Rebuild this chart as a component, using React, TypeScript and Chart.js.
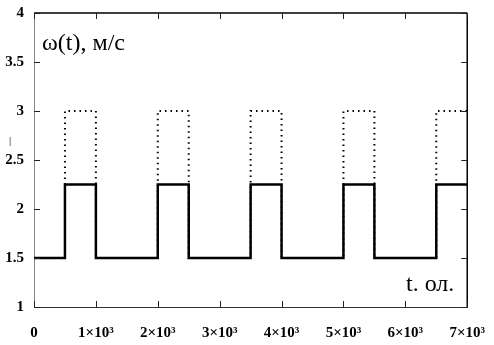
import React, { useEffect, useRef } from "react";
import { Chart, registerables } from "chart.js";

Chart.register(...registerables);

// Switching instants (t, ол.) and levels (м/с)
const times = [0, 500, 1000, 2000, 2500, 3500, 4000, 5000, 5500, 6500, 7000];
const omegaActual = [1.5, 2.25, 1.5, 2.25, 1.5, 2.25, 1.5, 2.25, 1.5, 2.25, 2.25];
const omegaTarget = [1.5, 3, 1.5, 3, 1.5, 3, 1.5, 3, 1.5, 3, 3];

const yTicks = [1, 1.5, 2, 2.5, 3, 3.5, 4];
const xTicks = [0, 1000, 2000, 3000, 4000, 5000, 6000, 7000];

const yTitle = "ω(t), м/с";
const xTitle = "t. ол.";

const FONT = "'Liberation Serif', 'Times New Roman', serif";

const framePlugin = {
  id: "frame",
  afterDraw(chart: any) {
    const { ctx, chartArea } = chart;
    const { left, right, top, bottom } = chartArea;
    const xs = chart.scales.x;
    const ys = chart.scales.y;
    ctx.save();
    ctx.strokeStyle = "#000";
    ctx.lineWidth = 1.5;
    ctx.beginPath();
    ctx.moveTo(left, top);
    ctx.lineTo(right, top);
    ctx.moveTo(right, top);
    ctx.lineTo(right, bottom);
    ctx.stroke();
    ctx.lineWidth = 1;
    ctx.strokeStyle = "#222";
    const tl = 6;
    ctx.beginPath();
    xTicks.forEach((v) => {
      const px = Math.round(xs.getPixelForValue(v)) + 0.5;
      ctx.moveTo(px, bottom);
      ctx.lineTo(px, bottom - tl);
      ctx.moveTo(px, top);
      ctx.lineTo(px, top + tl);
    });
    yTicks.forEach((v) => {
      const py = Math.round(ys.getPixelForValue(v)) + 0.5;
      ctx.moveTo(left, py);
      ctx.lineTo(left + tl, py);
      ctx.moveTo(right, py);
      ctx.lineTo(right - tl, py);
    });
    ctx.stroke();
    ctx.fillStyle = "#000";
    ctx.font = `24px ${FONT}`;
    ctx.textBaseline = "alphabetic";
    ctx.textAlign = "left";
    ctx.fillText(yTitle, left + 8, 50);
    ctx.fillText(xTitle, 406, 291);
    ctx.font = `11px ${FONT}`;
    ctx.fillText("|", 9, 144);
    ctx.restore();
  },
};

export default function App() {
  const ref = useRef<HTMLCanvasElement | null>(null);
  useEffect(() => {
    document.body.style.margin = "0";
    if (!ref.current) return;
    const chart = new Chart(ref.current, {
      type: "line",
      data: {
        datasets: [
          {
            label: "actual",
            data: times.map((t, i) => ({ x: t, y: omegaActual[i] })),
            borderColor: "#000",
            borderWidth: 2.5,
            stepped: "before",
            pointRadius: 0,
            fill: false,
          },
          {
            label: "target",
            data: times.map((t, i) => ({ x: t, y: omegaTarget[i] })),
            borderColor: "#000",
            borderWidth: 2,
            borderDash: [1.5, 4],
            stepped: "before",
            pointRadius: 0,
            fill: false,
          },
        ],
      },
      options: {
        animation: false,
        responsive: false,
        maintainAspectRatio: false,
        layout: { padding: { top: 13, right: 21, left: 0, bottom: 0 } },
        plugins: { legend: { display: false }, tooltip: { enabled: false } },
        scales: {
          x: {
            type: "linear",
            min: 0,
            max: 7000,
            grid: { display: false },
            border: { display: true, color: "#333", width: 1 },
            afterFit: (s: any) => {
              s.height = 38;
            },
            afterBuildTicks: (s: any) => {
              s.ticks = xTicks.map((v) => ({ value: v }));
            },
            ticks: {
              autoSkip: false,
              maxRotation: 0,
              padding: 9,
              color: "#000",
              font: { family: FONT, size: 15, weight: "bold" },
              callback: (v: any) => (v === 0 ? "0" : `${v / 1000}×10³`),
            },
          },
          y: {
            type: "linear",
            min: 1,
            max: 4,
            grid: { display: false },
            border: { display: true, color: "#888", width: 1 },
            afterFit: (s: any) => {
              s.width = 34;
            },
            afterBuildTicks: (s: any) => {
              s.ticks = yTicks.map((v) => ({ value: v }));
            },
            ticks: {
              autoSkip: false,
              padding: 2,
              color: "#000",
              font: { family: FONT, size: 15, weight: "bold" },
              callback: (v: any) => String(v),
            },
          },
        },
      },
      plugins: [framePlugin],
    });
    return () => chart.destroy();
  }, []);
  return (
    <div style={{ position: "absolute", left: 0, top: 0, width: 494, height: 345, background: "#fff" }}>
      <canvas ref={ref} width={494} height={345} style={{ width: 494, height: 345 }} />
    </div>
  );
}
